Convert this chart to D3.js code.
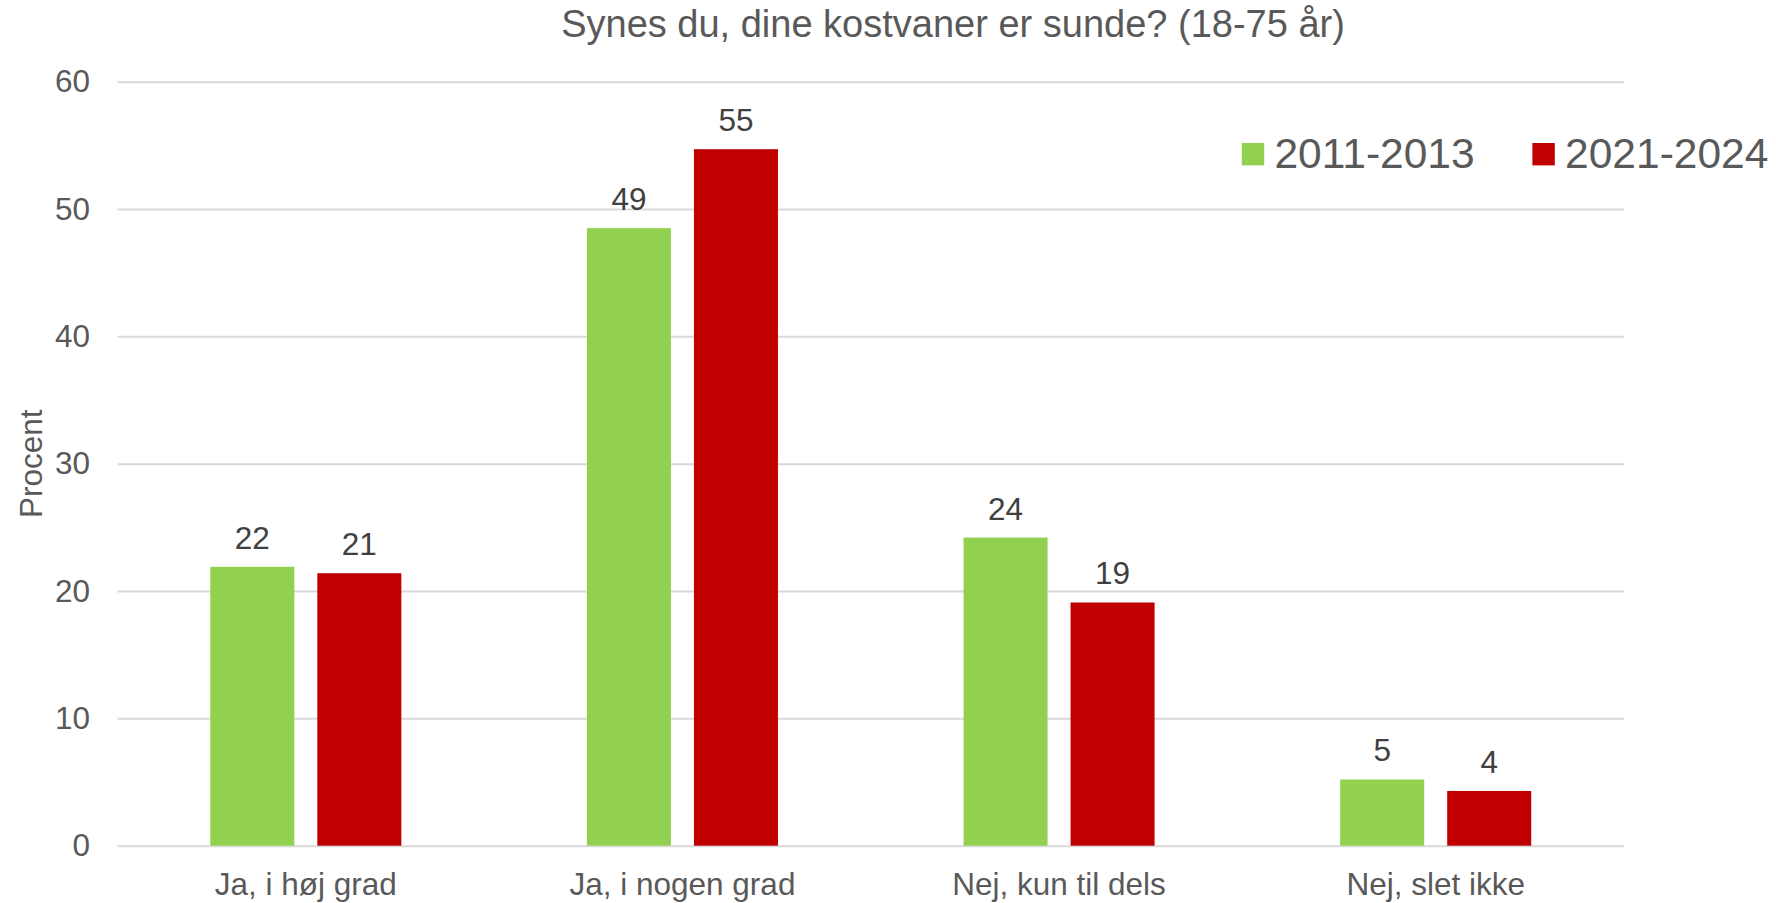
<!DOCTYPE html>
<html>
<head>
<meta charset="utf-8">
<script src="https://cdn.jsdelivr.net/npm/d3@7"></script>
<style>
  body { margin: 0; background: #fff; }
  svg text { font-family: "Liberation Sans", Arial, sans-serif; }
</style>
</head>
<body>
<div id="chart-container"></div>
<script>
// data
const categories = ["Ja, i høj grad", "Ja, i nogen grad", "Nej, kun til dels", "Nej, slet ikke"];
const seriesNames = ["2011-2013", "2021-2024"];
const values2011 = [21.9, 48.5, 24.2, 5.2];
const values2021 = [21.4, 54.7, 19.1, 4.3];
const yTicks = [0, 10, 20, 30, 40, 50, 60];
const colors = ["#92d050", "#c00000"];

const width = 1776, height = 903;
const margin = { top: 81.7, right: 152, bottom: 57.3, left: 117.5 };

const data = categories.map((c, i) => ({
    category: c,
    values: [
        { series: seriesNames[0], value: values2011[i] },
        { series: seriesNames[1], value: values2021[i] }
    ]
}));

const svg = d3.select("#chart-container")
    .append("svg")
    .attr("width", width)
    .attr("height", height);

const x0 = d3.scaleBand()
    .domain(categories)
    .range([margin.left, width - margin.right])
    .padding(0);

const x1 = d3.scaleBand()
    .domain(seriesNames)
    .range([0, x0.bandwidth()])
    .paddingInner(0.215)
    .paddingOuter(0.867);

const y = d3.scaleLinear()
    .domain([0, 60])
    .range([height - margin.bottom, margin.top]);

const color = d3.scaleOrdinal().domain(seriesNames).range(colors);

// y axis + gridlines
const yAxis = svg.append("g")
    .attr("class", "axis y-axis")
    .attr("transform", `translate(${margin.left},0)`)
    .call(d3.axisLeft(y)
        .tickValues(yTicks)
        .tickSize(-(width - margin.left - margin.right))
        .tickPadding(27.5));
yAxis.select(".domain").remove();
yAxis.selectAll(".tick line")
    .attr("stroke", "#d9d9d9")
    .attr("stroke-width", 2);
yAxis.selectAll(".tick text")
    .attr("font-size", 31.5)
    .attr("fill", "#595959");

// x axis labels
const xAxis = svg.append("g")
    .attr("class", "axis x-axis")
    .attr("transform", `translate(0,${height - margin.bottom})`)
    .call(d3.axisBottom(x0).tickSize(0).tickPadding(27));
xAxis.select(".domain").remove();
xAxis.selectAll(".tick text")
    .attr("font-size", 31.5)
    .attr("fill", "#595959");

// bars
const groups = svg.selectAll(".group")
    .data(data)
    .enter()
    .append("g")
    .attr("class", "group")
    .attr("transform", d => `translate(${x0(d.category)},0)`);

groups.selectAll("rect")
    .data(d => d.values)
    .enter()
    .append("rect")
    .attr("x", d => x1(d.series))
    .attr("y", d => y(d.value))
    .attr("width", x1.bandwidth())
    .attr("height", d => y(0) - y(d.value))
    .attr("fill", d => color(d.series));

groups.selectAll(".value-label")
    .data(d => d.values)
    .enter()
    .append("text")
    .attr("class", "value-label")
    .attr("x", d => x1(d.series) + x1.bandwidth() / 2)
    .attr("y", d => y(d.value) - 18)
    .attr("text-anchor", "middle")
    .attr("font-size", 31.5)
    .attr("fill", "#404040")
    .text(d => Math.round(d.value));

// title
svg.append("text")
    .attr("x", 953)
    .attr("y", 36.7)
    .attr("text-anchor", "middle")
    .attr("font-size", 38)
    .attr("fill", "#595959")
    .text("Synes du, dine kostvaner er sunde? (18-75 år)");

// y axis title
svg.append("text")
    .attr("transform", `translate(41.5,${(margin.top + height - margin.bottom) / 2}) rotate(-90)`)
    .attr("text-anchor", "middle")
    .attr("font-size", 31.5)
    .attr("fill", "#595959")
    .text("Procent");

// legend
const legendX = [1241.8, 1532.4];
const legend = svg.selectAll(".legend")
    .data(seriesNames)
    .enter()
    .append("g")
    .attr("class", "legend")
    .attr("transform", (d, i) => `translate(${legendX[i]},143)`);

legend.append("rect")
    .attr("width", 22.4)
    .attr("height", 22.4)
    .attr("fill", d => color(d));

legend.append("text")
    .attr("x", 32.7)
    .attr("y", 25.3)
    .attr("font-size", 42.5)
    .attr("fill", "#595959")
    .text(d => d);
</script>
</body>
</html>
